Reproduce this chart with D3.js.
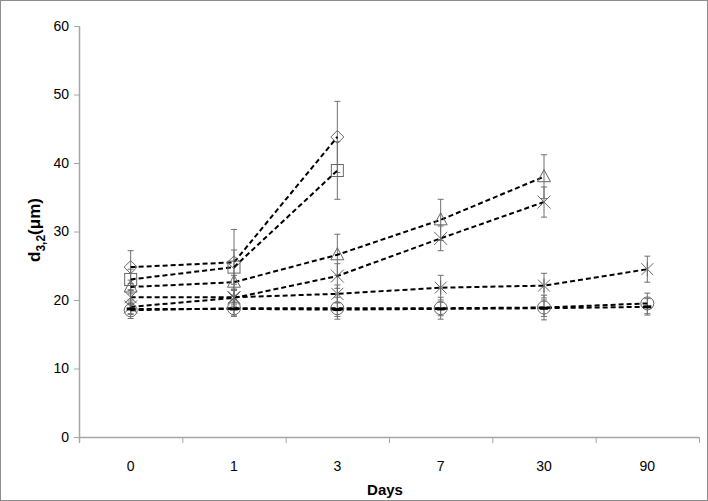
<!DOCTYPE html>
<html><head><meta charset="utf-8">
<script src="https://cdn.jsdelivr.net/npm/d3@7/dist/d3.min.js"></script>
<style>body{margin:0;background:#fff}svg text{font-family:"Liberation Sans",Arial,sans-serif}</style>
</head><body><svg id="c" width="708" height="501"></svg>
<script>
const days = ["0","1","3","7","30","90"];
const yTicks = [0,10,20,30,40,50,60];
const diamondVals = [24.8, 25.5, 43.8];
const diamondErr  = [2.4, 4.8, 5.2];
const squareVals  = [23.0, 24.8, 38.9];
const squareErr   = [1.5, 2.5, 4.2];
const triangleVals= [21.9, 22.6, 26.6, 31.7, 38.0];
const triangleErr = [1.0, 1.0, 3.0, 3.0, 3.2];
const crossVals   = [19.0, 20.3, 23.5, 29.0, 34.3];
const crossErr    = [1.0, 1.2, 1.8, 1.8, 2.2];
const starVals    = [20.4, 20.4, 20.9, 21.8, 22.1, 24.5];
const starErr     = [1.0, 1.0, 1.3, 1.8, 1.8, 1.9];
const circleVals  = [18.5, 18.8, 18.8, 18.8, 18.9, 19.5];
const circleErr   = [1.2, 1.2, 1.6, 1.6, 1.8, 1.5];
const dashVals    = [18.7, 18.7, 18.6, 18.7, 18.8, 19.0];
const dashErr     = [0.8, 0.9, 1.0, 1.0, 1.2, 1.2];

const series = [
  {m:"diamond", v:diamondVals, e:diamondErr},
  {m:"square", v:squareVals, e:squareErr},
  {m:"triangle", v:triangleVals, e:triangleErr},
  {m:"cross", v:crossVals, e:crossErr},
  {m:"star", v:starVals, e:starErr},
  {m:"circle", v:circleVals, e:circleErr},
  {m:"dash", v:dashVals, e:dashErr}
];

const svg = d3.select("#c");
svg.append("rect").attr("x",0.5).attr("y",0.5).attr("width",707).attr("height",500)
  .attr("fill","#fff").attr("stroke","#8c8c8c");

const x = d3.scaleBand().domain(days).range([79,699]);
const y = d3.scaleLinear().domain([0,60]).range([437,26]);
const axisCol = "#a6a6a6";

// y axis
const ya = svg.append("g").attr("transform","translate(79,0)")
  .call(d3.axisLeft(y).tickValues(yTicks).tickSize(5).tickPadding(5));
ya.select(".domain").remove();
ya.selectAll(".tick line").attr("stroke",axisCol);
ya.selectAll(".tick text").attr("font-size",14).attr("fill","#000");
svg.append("line").attr("x1",79.5).attr("x2",79.5).attr("y1",y(60)).attr("y2",442).attr("stroke",axisCol).attr("stroke-width",1.5);

// x axis
svg.append("line").attr("x1",79).attr("x2",699).attr("y1",437.5).attr("y2",437.5).attr("stroke",axisCol).attr("stroke-width",1.5);
const bounds = days.map(d=>x(d)).concat([x(days[days.length-1])+x.bandwidth()]);
svg.selectAll(".xt").data(bounds).enter().append("line")
  .attr("x1",d=>d+0.5).attr("x2",d=>d+0.5).attr("y1",437).attr("y2",443).attr("stroke",axisCol);
svg.selectAll(".xl").data(days).enter().append("text")
  .attr("x",d=>x(d)+x.bandwidth()/2).attr("y",471).attr("text-anchor","middle")
  .attr("font-size",14).text(d=>d);

svg.append("text").attr("x",385).attr("y",495).attr("text-anchor","middle")
  .attr("font-size",15).attr("font-weight","bold").text("Days");
const yt = svg.append("text").attr("transform","translate(40,230) rotate(-90)")
  .attr("text-anchor","middle").attr("font-size",17).attr("font-weight","bold");
yt.append("tspan").text("d");
yt.append("tspan").attr("font-size",12).attr("dy",5).text("3,2");
yt.append("tspan").attr("dy",-5).text("(μm)");

const cx = i => x(days[i]) + x.bandwidth()/2;
const g = svg.append("g");
// error bars
series.forEach(s=>{
  s.v.forEach((v,i)=>{
    const X = cx(i), t = y(v+s.e[i]), b = y(v-s.e[i]);
    g.append("line").attr("x1",X).attr("x2",X).attr("y1",t).attr("y2",b).attr("stroke","#707070").attr("stroke-width",1);
    [t,b].forEach(yy=>g.append("line").attr("x1",X-3).attr("x2",X+3).attr("y1",yy).attr("y2",yy).attr("stroke","#707070"));
  });
});
// lines
const line = d3.line().x((d,i)=>cx(i)).y(d=>y(d));
series.forEach(s=>{
  g.append("path").attr("d",line(s.v)).attr("fill","none").attr("stroke","#000")
   .attr("stroke-width",2).attr("stroke-dasharray","5,3");
});
// markers
const mc = "#666";
series.forEach(s=>{
  s.v.forEach((v,i)=>{
    const X = cx(i), Y = y(v);
    const mg = g.append("g").attr("transform",`translate(${X},${Y})`);
    if(s.m==="diamond") mg.append("path").attr("d","M0,-6.5L6.5,0L0,6.5L-6.5,0Z").attr("fill","none").attr("stroke",mc);
    if(s.m==="square") mg.append("rect").attr("x",-6).attr("y",-6).attr("width",12).attr("height",12).attr("fill","none").attr("stroke",mc);
    if(s.m==="triangle") mg.append("path").attr("d","M0,-7L6.5,5L-6.5,5Z").attr("fill","none").attr("stroke",mc);
    if(s.m==="cross") mg.append("path").attr("d","M-6.5,-6.5L6.5,6.5M-6.5,6.5L6.5,-6.5").attr("stroke",mc);
    if(s.m==="star") mg.append("path").attr("d","M-6,-6L6,6M-6,6L6,-6M0,-7L0,7").attr("stroke",mc);
    if(s.m==="circle") mg.append("circle").attr("r",6.5).attr("fill","none").attr("stroke",mc);
    if(s.m==="dash") mg.append("rect").attr("x",-4).attr("y",-1.5).attr("width",8).attr("height",3).attr("fill","#000");
  });
});
</script></body></html>
